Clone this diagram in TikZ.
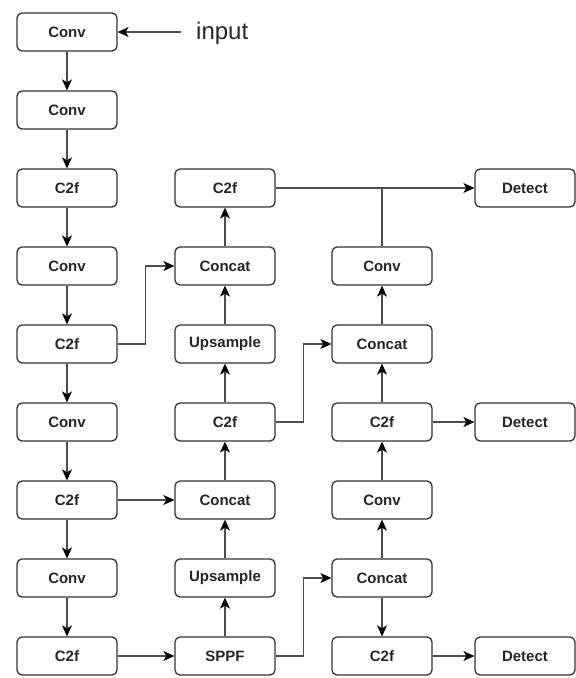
\documentclass[tikz,border=0pt]{standalone}
\usepackage{fontspec}
\setmainfont{Liberation Sans}
\usetikzlibrary{arrows.meta}
\begin{document}
\begin{tikzpicture}[x=1pt,y=-1pt,
  blk/.style={draw=black!80, line width=1.3pt, rounded corners=5pt,
    minimum width=100pt, minimum height=38pt, inner sep=0pt,
    font=\fontsize{15}{17}\selectfont\bfseries, text=black!85},
  conn/.style={draw=black!70, line width=1.2pt},
  arr/.style={conn, -{Stealth[length=11pt,width=10pt,inset=3pt,black]}}]
\useasboundingbox (0,0) rectangle (576,678);
\def\ca{67}\def\cb{225}\def\cc{382}\def\cd{525}
% column 1
\node[blk] (a1) at (\ca,32) {Conv};
\node[blk] (a2) at (\ca,110) {Conv};
\node[blk] (a3) at (\ca,188) {C2f};
\node[blk] (a4) at (\ca,266) {Conv};
\node[blk] (a5) at (\ca,344) {C2f};
\node[blk] (a6) at (\ca,422) {Conv};
\node[blk] (a7) at (\ca,500) {C2f};
\node[blk] (a8) at (\ca,578) {Conv};
\node[blk] (a9) at (\ca,656) {C2f};
% column 2
\node[blk] (b3) at (\cb,188) {C2f};
\node[blk] (b4) at (\cb,266) {Concat};
\node[blk] (b5) at (\cb,344) {Upsample};
\node[blk] (b6) at (\cb,422) {C2f};
\node[blk] (b7) at (\cb,500) {Concat};
\node[blk] (b8) at (\cb,578) {Upsample};
\node[blk] (b9) at (\cb,656) {SPPF};
% column 3
\node[blk] (c4) at (\cc,266) {Conv};
\node[blk] (c5) at (\cc,344) {Concat};
\node[blk] (c6) at (\cc,422) {C2f};
\node[blk] (c7) at (\cc,500) {Conv};
\node[blk] (c8) at (\cc,578) {Concat};
\node[blk] (c9) at (\cc,656) {C2f};
% column 4
\node[blk] (d3) at (\cd,188) {Detect};
\node[blk] (d6) at (\cd,422) {Detect};
\node[blk] (d9) at (\cd,656) {Detect};
% input
\node[anchor=base west, inner sep=0pt, font=\fontsize{24}{26}\selectfont, text=black!85] (in) at (196,39) {input};
\coordinate (inS) at (181,32);
\draw[arr] (inS) -- (a1.east);
% column 1 chain
\foreach \p/\q in {a1/a2,a2/a3,a3/a4,a4/a5,a5/a6,a6/a7,a7/a8,a8/a9}
  \draw[arr] (\p.south) -- (\q.north);
% column 2 chain (upwards)
\foreach \p/\q in {b9/b8,b8/b7,b7/b6,b6/b5,b5/b4,b4/b3}
  \draw[arr] (\p.north) -- (\q.south);
% column 3
\draw[arr] (c5.north) -- (c4.south);
\draw[arr] (c6.north) -- (c5.south);
\draw[arr] (c7.north) -- (c6.south);
\draw[arr] (c8.north) -- (c7.south);
\draw[arr] (c8.south) -- (c9.north);
% cross links
\draw[arr] (a5.east) -- ++(28,0) |- (b4.west);
\draw[arr] (a7.east) -- (b7.west);
\draw[arr] (a9.east) -- (b9.west);
\draw[arr] (b6.east) -- ++(28,0) |- (c5.west);
\draw[arr] (b9.east) -- ++(28,0) |- (c8.west);
\draw[arr] (b3.east) -- (d3.west);
\draw[conn] (c4.north) -- (c4.north |- b3.east);
\draw[arr] (c6.east) -- (d6.west);
\draw[arr] (c9.east) -- (d9.west);
\end{tikzpicture}
\end{document}
